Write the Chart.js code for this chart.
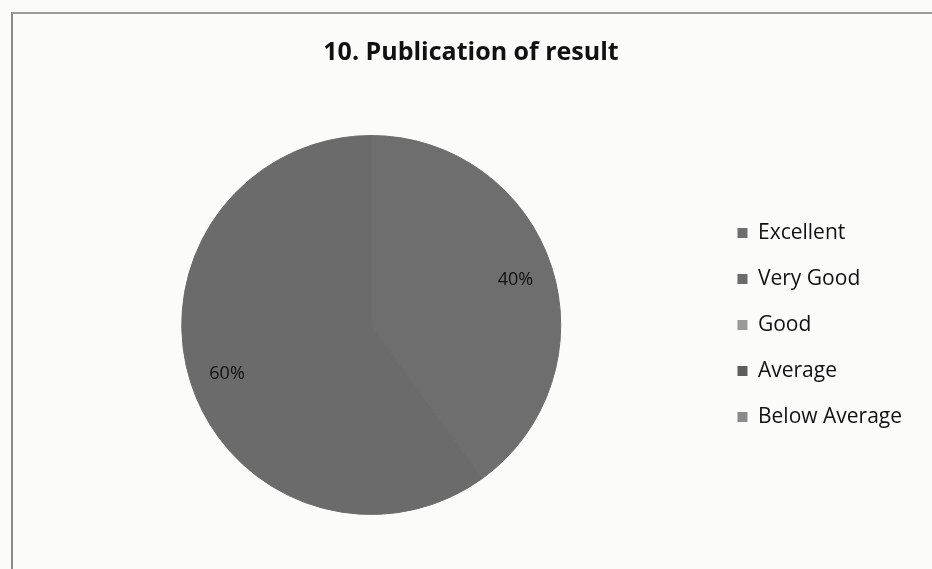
<!DOCTYPE html>
<html>
<head>
<meta charset="utf-8">
<script src="https://cdn.jsdelivr.net/npm/chart.js@4"></script>
<style>
  html, body { margin: 0; padding: 0; background: #fbfbfa; }
  #wrap { position: relative; width: 932px; height: 569px; }
  #frame { position: absolute; left: 11px; top: 12px; right: -5px; bottom: -5px;
           border-left: 2px solid #8a8a8a; border-top: 2px solid #9a9a9a; }
  canvas { position: absolute; left: 0; top: 0; }
</style>
</head>
<body>
<div id="wrap">
  <div id="frame"></div>
  <canvas id="chart" width="932" height="569"></canvas>
</div>
<script>
// Publication of result - pie chart
const categories = ['Excellent', 'Very Good', 'Good', 'Average', 'Below Average'];
const percentages = [40, 60, 0, 0, 0];
const sliceColors = ['#6e6e6e', '#6b6b6b', '#9a9a9a', '#5e5e5e', '#8a8a8a'];

// Draw "40%" style labels inside each non-empty slice
const sliceLabels = {
    id: 'sliceLabels',
    afterDatasetsDraw(chart) {
        const ctx = chart.ctx;
        const meta = chart.getDatasetMeta(0);
        ctx.save();
        ctx.font = '18px "Open Sans", sans-serif';
        ctx.fillStyle = '#111';
        ctx.textAlign = 'center';
        ctx.textBaseline = 'middle';
        meta.data.forEach((arc, i) => {
            const value = percentages[i];
            if (!value) return;
            const { x, y, startAngle, endAngle, outerRadius } = arc.getProps(
                ['x', 'y', 'startAngle', 'endAngle', 'outerRadius'], true);
            const mid = (startAngle + endAngle) / 2;
            const r = outerRadius * 0.8;
            ctx.fillText(`${value}%`, x + Math.cos(mid) * r, y + Math.sin(mid) * r + 2);
        });
        ctx.restore();
    }
};

// Default pie legend items, but without the slice outline on the swatches
const defaultLabels = Chart.overrides.pie.plugins.legend.labels.generateLabels;

const ctx = document.getElementById('chart').getContext('2d');
new Chart(ctx, {
    type: 'pie',
    data: {
        labels: categories,
        datasets: [{
            data: percentages,
            backgroundColor: sliceColors,
            borderColor: '#6c6c6c',
            borderWidth: 1
        }]
    },
    options: {
        responsive: false,
        animation: false,
        layout: { padding: { left: 30, right: 20, top: 0, bottom: 54 } },
        plugins: {
            title: {
                display: true,
                text: '10. Publication of result',
                color: '#111',
                font: { family: '"Open Sans", sans-serif', size: 25, weight: 'bold' },
                padding: { top: 38, bottom: 67 }
            },
            legend: {
                position: 'right',
                fullSize: false,
                labels: {
                    color: '#111',
                    font: { family: '"Open Sans", sans-serif', size: 21 },
                    boxWidth: 10,
                    boxHeight: 10,
                    padding: 25,
                    generateLabels: chart => defaultLabels(chart).map(item => ({
                        ...item,
                        lineWidth: 0,
                        strokeStyle: item.fillStyle
                    }))
                }
            },
            tooltip: { enabled: false }
        }
    },
    plugins: [sliceLabels]
});
</script>
</body>
</html>
